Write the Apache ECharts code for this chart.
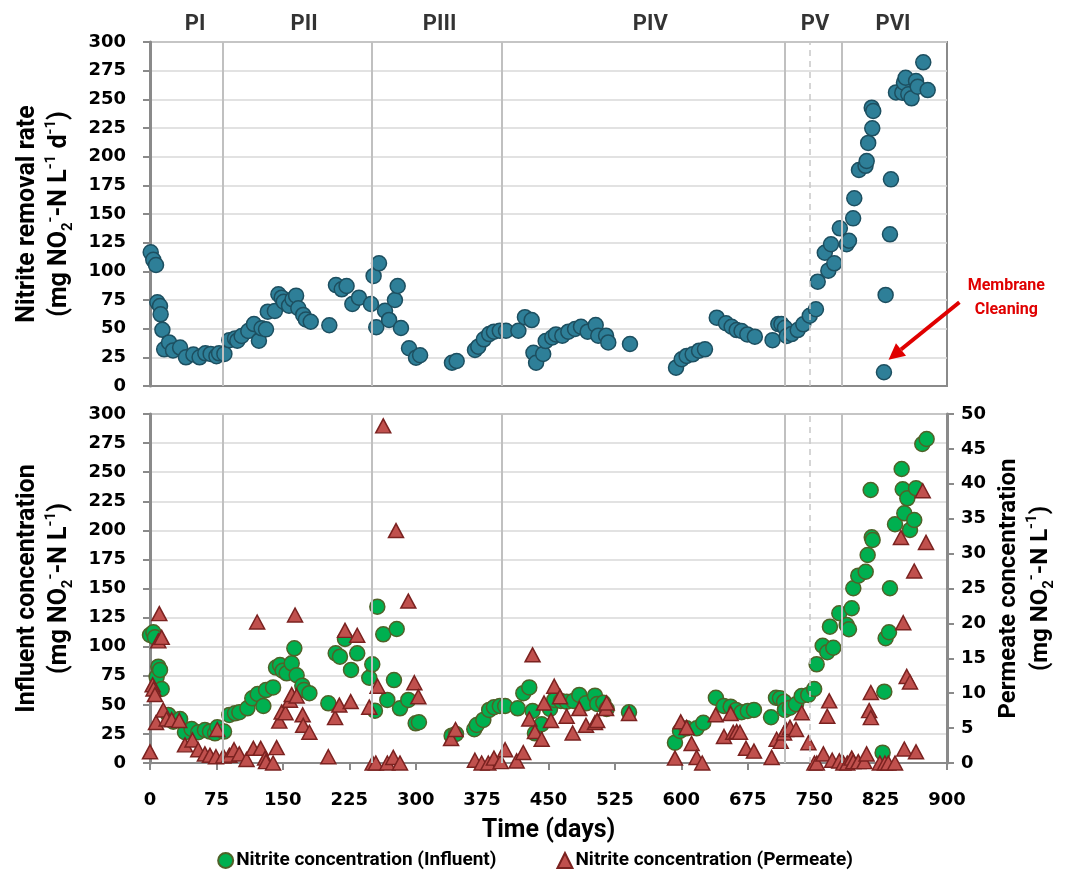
<!DOCTYPE html>
<html>
<head>
<meta charset="utf-8">
<script src="https://cdn.jsdelivr.net/npm/echarts@6/dist/echarts.min.js"></script>
<style>html,body{margin:0;padding:0;background:#fff;}#c{width:1070px;height:877px;}</style>
</head>
<body>
<div id="c"></div>
<script>
// ---- data (day, value) ----
const removalRate = [
[0.8,116.6],[3.7,110],[6.8,105.5],[8.3,73],[11.3,69.8],[12,62.5],[14,49],[16,32],[21.5,38],[26,31],
[34,33.5],[40.6,25],[49,27.5],[56,25],[62.5,28.5],[68.5,28],[75,26],[78,28.5],[84,28],[89.6,40],
[96,41.5],[98.6,39.5],[103.5,43.6],[111,48],[117.4,54],[123,39.5],[126,50.3],[131,49.4],[133,64.8],[141,65.4],
[145,80],[148.7,77],[151,73.5],[157,70],[161,75.6],[165,78.8],[167.5,67.8],[173,62],[176,58],[181.5,56],
[202.5,53],[210,88],[216.5,84.3],[222,87.2],[228.5,71.5],[236,77],[249.5,71.5],[252.5,96],[255.5,51.2],[258.6,107],
[265.4,65.7],[270,57.6],[276.6,75],[279.7,87.2],[283.4,50.6],[292.5,32.9],[300.4,24.7],[305,26.8],[341,20.3],[346.3,21.8],
[367,31.4],[370.7,34.3],[377,40.7],[383,45.3],[388.4,47.4],[395,48.2],[402,48.2],[416,48.2],[423.4,60],[431,57.5],
[433,29],[436,20.3],[444,27.9],[446.8,39.2],[454.3,42.4],[458.4,45],[465.6,43.9],[472.4,47.4],[480,49.7],[486.7,51.7],
[494.2,47.4],[503.3,53.2],[506.2,43.9],[515,43.9],[517.5,38],[542,36.6],[594,16],[600.4,23.3],[606,26.2],[612.8,27.6],
[620,30.8],[626.7,32],[640,59.6],[650.4,54.7],[656.8,51.7],[662.5,48.8],[668,48],[674.5,45],[683,43],[703,40],
[709.5,54],[713,54],[717,50.8],[719,43.6],[724.6,45.3],[731.4,48.8],[737.7,53.8],[745,61.3],[752,66.9],[754,91],
[762,116.2],[766,100.6],[769,123.6],[772.7,107],[779,137.5],[786.7,123.6],[789.3,126.7],[794,146.2],[795.3,163.7],[800.6,188.4],
[808,192],[809.3,196.2],[811,212],[815.6,224.7],[815,242.7],[816.7,239.8],[828.8,12],[830.7,79.4],[835.6,132.3],[836.7,180.2],
[842.4,256],[849.5,255.8],[851.4,264.5],[853.3,268.8],[856.3,254.4],[860,250.9],[865,266],[866.9,261],[873.2,282.3],[878.2,258.1]
];
const influent = [
[0,110],[3.8,112.3],[5.6,108],[7.5,74],[9.4,82.8],[11.3,80],[13.2,63.6],[20.7,41.3],[26.3,35.5],[34,37.8],
[39.5,26.4],[47,29.2],[54.5,26.4],[62,28.4],[67.7,27],[73.4,25.5],[76,30.7],[83.6,27],[89.6,41.3],[96,42.7],
[100.9,43.6],[110,47],[115.5,55.6],[121.6,59.3],[128,49],[131,62.7],[139,65],[142.3,82],[146.8,84.2],[149.8,79.3],
[154.3,77.1],[160,85.7],[163,98.6],[165.6,75.4],[172,66.5],[173.9,62.7],[180,60],[201.4,51.3],[209.7,94.3],[214.5,91.4],
[220.2,106.6],[227,80],[234,94.3],[247.6,73.3],[251,84.8],[254,45],[256.7,134.4],[263.4,110.6],[268,54.2],[275.5,71.3],
[278.6,115.2],[282.3,47],[291.7,54.2],[300,34.1],[303.7,35],[340.6,23.5],[345.5,25],[366.2,29],[369,32.7],[376.4,37],
[383,45.6],[388.4,47.9],[395,49],[401,49],[415.2,47],[421.6,60],[428.3,65],[432,44.7],[434.7,25.5],[442.3,33.3],
[451.7,46.4],[456.5,54.2],[464,53.3],[470.5,52.7],[478,53.3],[484.8,58.5],[492.3,51.3],[502.5,57.9],[505,50.7],[511.9,51.8],
[515.7,46.4],[540.9,43.6],[592.8,17.5],[598.5,27.5],[606,29.8],[617.3,29.8],[624.8,34.6],[639,56.1],[648,49],[655.7,48.4],
[661.7,45.6],[668,43.6],[675,44.7],[682,45.6],[701.3,39.3],[706.9,56.1],[711.4,55.6],[716,52.7],[717,45.6],[722.7,47.5],
[729.5,50.5],[735.9,57.6],[743.3,58.5],[750,63.6],[752.8,84.8],[759.6,100.8],[764.8,95.2],[767.8,117.2],[771.6,99.1],[778.4,128.7],
[786.7,118.6],[789.3,115],[792.4,133],[794.2,150.2],[799.8,161],[808.2,164.4],[810.4,178.8],[813.8,234.7],[815,194],[816,191.7],
[827.3,8.9],[829.2,61.3],[830.7,107.2],[834.5,112.4],[835.6,150.2],[841.3,205.2],[848.8,252.7],[850,235.3],[851.8,214.6],[855.2,227.5],
[858.2,200.3],[863,208.9],[865,236.1],[872.1,274.2],[877,278.5]
];
const permeate = [
[0,1.6],[3,11.2],[4,10.6],[5.6,9.8],[6.8,5.8],[9.4,17.5],[10.5,21.4],[13.2,18],[15,7.6],[18.8,6.3],
[24.5,6.2],[33,6.1],[39.5,2.6],[48,3.3],[54.5,1.9],[62,1.3],[67.7,1.1],[74.5,0.9],[76,4.8],[82.8,1],
[89.6,1.1],[94.9,1.9],[100.8,1.3],[109,0.5],[116.7,2.1],[121,20.2],[125,2.1],[130,0.7],[131,0.2],[139,0],
[143,2.2],[146,6],[148.7,7.3],[153,7.2],[158,9],[160,9.8],[163.8,21.2],[165.6,9.6],[172.4,6.9],[173,5.4],
[180,4.4],[201.4,0.9],[209,6.5],[213.8,8.3],[220.2,19],[226.6,8.8],[234,18.3],[247.6,8],[251.4,0],[255,0],
[257,11],[263.4,48.3],[268,0],[274.7,0.8],[277.8,33.3],[282.3,0],[291.7,23.2],[298.5,11.5],[303,9.5],[340,3.5],
[345,4.8],[366.9,0.4],[374.5,0],[382,0],[388.4,0.7],[396,0.2],[401,1.9],[414,0.3],[421.5,1.5],[428.3,6.3],
[432,15.5],[434.7,4.5],[442.3,3.4],[445,8.6],[452.8,6.1],[456.5,11],[463,9.5],[470.5,6.7],[477.3,4.3],[484.8,7.8],
[492.3,5.4],[502.5,5.8],[505,6.1],[515,7.8],[515.7,8.6],[540.9,7.1],[592.8,0.7],[599.3,5.9],[606,5.1],[611.6,2.8],
[617.3,0.8],[623.6,0],[638.8,6.9],[648.2,3.8],[655.7,7.1],[658.6,4.4],[662.5,4.5],[666.2,4.4],[673,2.1],[682,1.7],
[702,0.8],[707.6,3.4],[712.2,3.1],[716,4.3],[718.2,4.8],[722.7,5.1],[729.5,4.8],[736,7.2],[743.5,2.9],[750.3,0],
[753,0],[760.4,1.3],[764.8,6.7],[767,8.9],[770.4,0.4],[778.4,0.3],[783,0],[787.4,0],[792.4,0.7],[794.2,0.2],
[799.8,0.2],[806.6,0.2],[809.2,1.3],[812.1,7.5],[814,6.5],[814,10.1],[824.2,0],[829.9,0],[833.7,0],[841.3,0],
[848,32.3],[850.6,20.1],[851.8,2],[854.5,12.4],[858.2,11.6],[863,27.5],[865,1.6],[872.6,39],[876.3,31.6]
];
const phaseNames = ['PI','PII','PIII','PIV','PV','PVI'];
const phaseCenters = [51,174,327,565,751,839];
const phaseBoundaries = [82,250,397,717,781];
const dashedBoundaries = [745];
const xTicks = {min:0, max:900, interval:75};
const leftTicks = {min:0, max:300, interval:25};
const rightTicks = {min:0, max:50, interval:5};
const annotation = {text:['Membrane','Cleaning'], arrowFrom:[914,73], arrowTo:[834,23], textAt:[967,77]};

const TICKFONT = 'DejaVu Sans';
const TITLEFONT = 'Roboto, "Noto Sans", sans-serif';
const axisGray = '#8a8a8a';
const gridGray = '#d9d9d9';

function yTitle(l1, l2parts){
  return '{a|' + l1 + '}\n' + l2parts;
}
const richTitle = {
  a:{fontSize:25, fontWeight:'bold', fontFamily:TITLEFONT, color:'#000', lineHeight:32},
  sub:{fontSize:15, fontWeight:'bold', fontFamily:TITLEFONT, color:'#000', lineHeight:14, verticalAlign:'bottom'},
  sup:{fontSize:15, fontWeight:'bold', fontFamily:TITLEFONT, color:'#000', lineHeight:14, verticalAlign:'top'}
};
const richTitleR = JSON.parse(JSON.stringify(richTitle));
richTitleR.a.fontSize = 24;
const tickLabel = {fontFamily:TICKFONT, fontWeight:'bold', fontSize:18, color:'#000'};

const phaseMarkData = phaseBoundaries.map(v => ({xAxis:v}))
  .concat(dashedBoundaries.map(v => ({xAxis:v, lineStyle:{type:[6,5], color:'#c8c8c8', width:1.5}})));
const markLineCfg = {
  silent:true, symbol:['none','none'], label:{show:false},
  lineStyle:{color:'#c0c0c0', width:2, type:'solid'},
  data: phaseMarkData, animation:false
};

const chart = echarts.init(document.getElementById('c'), null, {renderer:'canvas'});
const option = {
  animation:false,
  backgroundColor:'#fff',
  grid:[
    {left:150, right:123, top:42, height:344, show:true, borderColor:axisGray, borderWidth:2, backgroundColor:'transparent'},
    {left:150, right:123, top:414, height:349, show:true, borderColor:axisGray, borderWidth:2, backgroundColor:'transparent'}
  ],
  xAxis:[
    {gridIndex:0, type:'value', min:xTicks.min, max:xTicks.max, interval:xTicks.interval,
     axisLine:{lineStyle:{color:axisGray, width:2}}, axisTick:{show:false}, axisLabel:{show:false}, splitLine:{show:false}},
    {gridIndex:1, type:'value', min:xTicks.min, max:xTicks.max, interval:xTicks.interval,
     axisLine:{lineStyle:{color:axisGray, width:2}}, axisTick:{show:true, inside:false, length:7, lineStyle:{color:axisGray, width:2}},
     axisLabel:Object.assign({margin:28}, tickLabel), splitLine:{show:false},
     name:'Time (days)', nameLocation:'middle', nameGap:55,
     nameTextStyle:{fontSize:25, fontWeight:'bold', fontFamily:TITLEFONT, color:'#000'}}
  ],
  yAxis:[
    {gridIndex:0, type:'value', min:leftTicks.min, max:leftTicks.max, interval:leftTicks.interval,
     axisLine:{show:true, lineStyle:{color:axisGray, width:3}}, axisTick:{show:true, length:7, lineStyle:{color:axisGray, width:2}},
     axisLabel:Object.assign({margin:24}, tickLabel),
     splitLine:{show:true, lineStyle:{color:gridGray, width:1.5}},
     name: yTitle('Nitrite removal rate', '{a|(mg NO}{sub|2}{sup|-}{a|-N L}{sup|-1}{a| d}{sup|-1}{a|)}'),
     nameLocation:'middle', nameRotate:90, nameGap:74, nameTextStyle:{rich:richTitle, align:'center'}},
    {gridIndex:1, type:'value', min:leftTicks.min, max:leftTicks.max, interval:leftTicks.interval,
     axisLine:{show:true, lineStyle:{color:axisGray, width:3}}, axisTick:{show:true, length:7, lineStyle:{color:axisGray, width:2}},
     axisLabel:Object.assign({margin:24}, tickLabel),
     splitLine:{show:true, lineStyle:{color:gridGray, width:1.5}},
     name: yTitle('Influent concentration', '{a|(mg NO}{sub|2}{sup|-}{a|-N L}{sup|-1}{a|)}'),
     nameLocation:'middle', nameRotate:90, nameGap:74, nameTextStyle:{rich:richTitle, align:'center'}},
    {gridIndex:1, type:'value', position:'right', min:rightTicks.min, max:rightTicks.max, interval:rightTicks.interval,
     axisLine:{show:true, lineStyle:{color:axisGray, width:3}}, axisTick:{show:true, length:7, lineStyle:{color:axisGray, width:2}},
     axisLabel:Object.assign({margin:14}, tickLabel),
     splitLine:{show:false},
     name: yTitle('Permeate concentration', '{a|(mg NO}{sub|2}{sup|-}{a|-N L}{sup|-1}{a|)}'),
     nameLocation:'middle', nameRotate:90, nameGap:46, nameTextStyle:{rich:richTitleR, align:'center'}}
  ],
  legend:{
    bottom:2, left:'center', itemGap:60, itemWidth:15, itemHeight:15,
    data:[{name:'Nitrite concentration (Influent)', icon:'circle'}, {name:'Nitrite concentration (Permeate)', icon:'triangle'}],
    textStyle:{fontFamily:TITLEFONT, fontWeight:'bold', fontSize:19, color:'#000', padding:[0,0,0,-2]}
  },
  series:[
    {name:'Nitrite removal rate', type:'scatter', xAxisIndex:0, yAxisIndex:0, data:removalRate,
     symbol:'circle', symbolSize:15,
     itemStyle:{color:'#2e7f98', borderColor:'#1d4f60', borderWidth:1.5, opacity:1},
     markLine:markLineCfg, z:3},
    {name:'phase labels', type:'scatter', xAxisIndex:0, yAxisIndex:0, clip:false, silent:true,
     data: phaseNames.map((n,i) => ({value:[phaseCenters[i], leftTicks.max], name:n})),
     symbol:'circle', symbolSize:1, itemStyle:{color:'rgba(0,0,0,0)'},
     label:{show:true, position:'top', distance:6, formatter:p => p.name,
            fontFamily:TITLEFONT, fontWeight:'bold', fontSize:22, color:'#000'}, z:5},
    {name:'Nitrite concentration (Influent)', type:'scatter', xAxisIndex:1, yAxisIndex:1, data:influent,
     symbol:'circle', symbolSize:15,
     itemStyle:{color:'#00b050', borderColor:'#4f6228', borderWidth:1.5, opacity:1},
     markLine:markLineCfg, z:3},
    {name:'Nitrite concentration (Permeate)', type:'scatter', xAxisIndex:1, yAxisIndex:2, data:permeate,
     symbol:'triangle', symbolSize:[15,14],
     itemStyle:{color:'#c0504d', borderColor:'#7b2220', borderWidth:1.5, opacity:1}, z:4}
  ]
};
chart.setOption(option);

// annotation (arrow + text), positioned from data coordinates of the top grid
const pFrom = chart.convertToPixel({gridIndex:0}, annotation.arrowFrom);
const pTo = chart.convertToPixel({gridIndex:0}, annotation.arrowTo);
const pText = chart.convertToPixel({gridIndex:0}, annotation.textAt);
const ang = Math.atan2(pTo[1]-pFrom[1], pTo[0]-pFrom[0]);
const headLen = 16, headW = 8;
const baseX = pTo[0] - headLen*Math.cos(ang), baseY = pTo[1] - headLen*Math.sin(ang);
const red = '#e00000';
chart.setOption({
  graphic:[
    {type:'line', shape:{x1:pFrom[0], y1:pFrom[1], x2:baseX, y2:baseY}, style:{stroke:red, lineWidth:4}, z:100},
    {type:'polygon', shape:{points:[
      [pTo[0], pTo[1]],
      [baseX + headW*Math.sin(ang), baseY - headW*Math.cos(ang)],
      [baseX - headW*Math.sin(ang), baseY + headW*Math.cos(ang)]
    ]}, style:{fill:red}, z:100},
    {type:'text', x:pText[0], y:pText[1], style:{text:annotation.text.join('\n'), fill:red, font:'bold 16px ' + TITLEFONT,
      textAlign:'center', textVerticalAlign:'middle', lineHeight:24}, z:100}
  ]
});
</script>
</body>
</html>
